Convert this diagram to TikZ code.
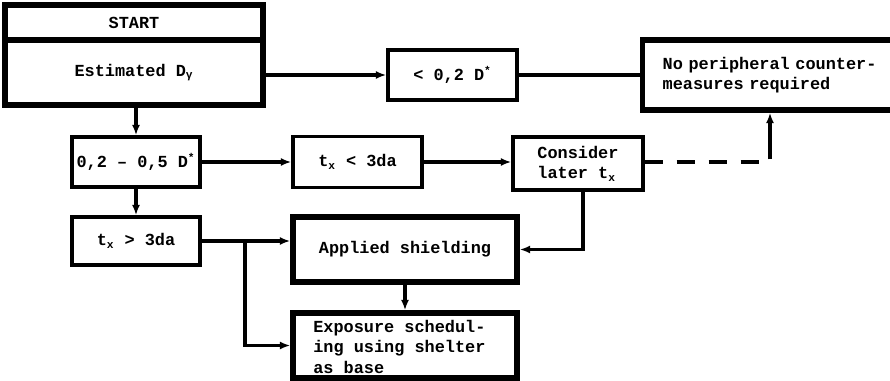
\documentclass[tikz,border=0pt]{standalone}
\usepackage{fontspec}
\setmainfont{Liberation Mono}
\usetikzlibrary{arrows.meta}

\begin{document}
\begin{tikzpicture}[x=0.025cm, y=-0.025cm,
        font=\fontsize{12}{14.5}\selectfont\bfseries,
        box/.style={draw, line width=2.4pt, inner sep=0pt},
        bigbox/.style={draw, line width=3.8pt, inner sep=0pt},
        link/.style={line width=2.4pt},
        flow/.style={link, -{Latex[length=2.6mm, width=2mm]}}]
        \useasboundingbox (0,0) rectangle (890,381);

        % START block
        \node[bigbox, minimum width=6.45cm, minimum height=0.875cm] (starthd) at (134,22.5) {START};
        \node[bigbox, minimum width=6.45cm, minimum height=1.625cm] (est) at (134,72.5) {Estimated D\textsubscript{γ}};

        % Dose classes
        \node[box, minimum width=3.225cm, minimum height=1.25cm] (low) at (452.5,75) {< 0,2 D\textsuperscript{*}};
        \node[box, minimum width=3.2cm, minimum height=1.25cm] (mid) at (136,162) {0,2 – 0,5 D\textsuperscript{*}};
        \node[bigbox, minimum height=1.75cm, align=left, text width=5.9cm, inner xsep=0.5cm, anchor=west] (none) at (640,75)
            {No peripheral counter-\\measures required};

        % Times
        \node[box, minimum width=3.225cm, minimum height=1.275cm] (short) at (357.5,162) {t\textsubscript{x} < 3da};
        \node[box, minimum width=3.2cm, minimum height=1.2cm] (long) at (136,241) {t\textsubscript{x} > 3da};
        \node[box, minimum width=3.25cm, minimum height=1.325cm, align=left] (later) at (578,163.5) {Consider\\later t\textsubscript{x}};

        % Countermeasures
        \node[bigbox, minimum width=5.6cm, minimum height=1.625cm] (shield) at (405,249.5) {Applied shielding};
        \node[bigbox, minimum width=5.6cm, minimum height=1.625cm] (sched) at (405,345.5) {};
        \node[anchor=north west, align=left, inner sep=0pt] (schedtxt) at (313,320)
            {Exposure schedul-\\ing using shelter\\as base};

        \coordinate (bend) at (770,162);
        \coordinate (split) at (245,241);

        % Connectors
        \draw[flow] (est.east |- low.west) -- (low.west);
        \draw[link] (low.east) -- (low.east -| none.west);
        \draw[flow] (mid.north |- est.south) -- (mid.north);
        \draw[flow] (mid.east) -- (mid.east -| short.west);
        \draw[flow] (short.east) -- (short.east -| later.west);
        \draw[flow] (mid.south) -- (long.north);
        \draw[flow] (later.south -| 583,0) |- (shield.east);
        \draw[link, dash pattern=on 0.45cm off 0.35cm] (later.east |- bend) -- (bend) -- ++(0,-20);
        \draw[flow] (bend) ++(0,-20) -- (bend |- none.south);
        \draw[flow] (long.east) -- (long.east -| shield.west);
        \draw[flow] (split) |- (sched.west);
        \draw[flow] (shield.south) -- (sched.north);
    \end{tikzpicture}
\end{document}
